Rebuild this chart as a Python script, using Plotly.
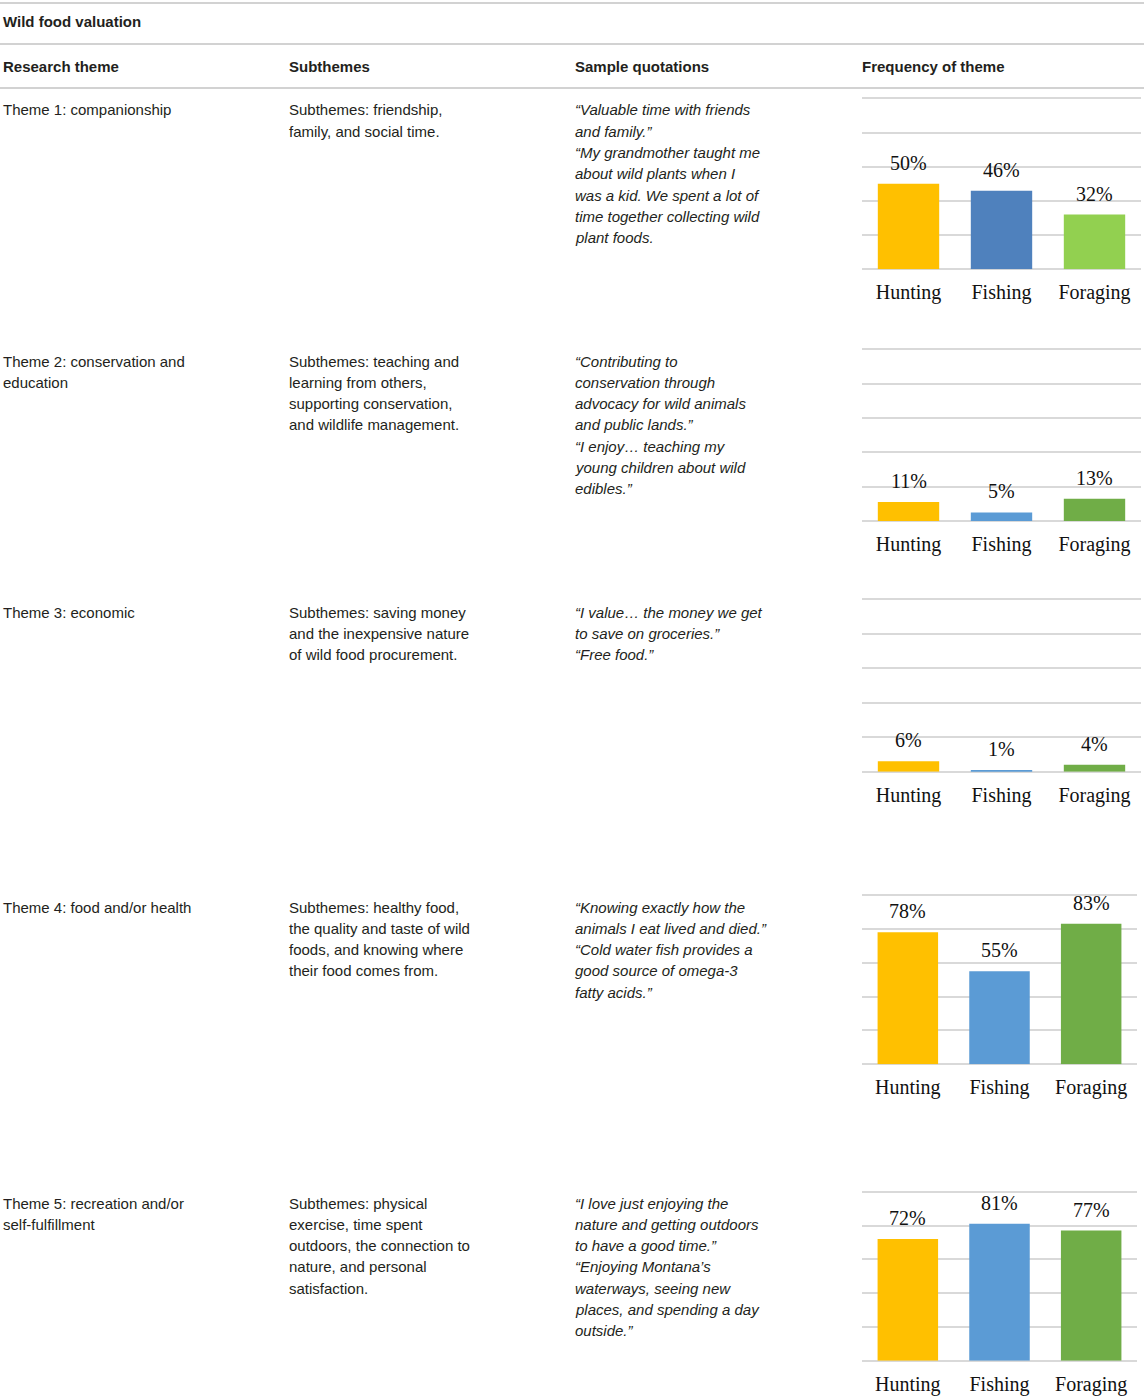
import plotly.graph_objects as go

W, H = 1144, 1397

# ---------------- data ----------------
categories = ["Hunting", "Fishing", "Foraging"]
theme1_values = [50, 46, 32]
theme2_values = [11, 5, 13]
theme3_values = [6, 1, 4]
theme4_values = [78, 55, 83]
theme5_values = [72, 81, 77]
all_values = [theme1_values, theme2_values, theme3_values, theme4_values, theme5_values]

colors_theme1 = ["#FFC000", "#4F81BD", "#92D050"]
colors_other = ["#FFC000", "#5B9BD5", "#70AD47"]
bar_colors = [colors_theme1, colors_other, colors_other, colors_other, colors_other]

table_title = "Wild food valuation"
column_headers = ["Research theme", "Subthemes", "Sample quotations", "Frequency of theme"]

research_themes = [
    ["Theme 1: companionship"],
    ["Theme 2: conservation and", "education"],
    ["Theme 3: economic"],
    ["Theme 4: food and/or health"],
    ["Theme 5: recreation and/or", "self-fulfillment"],
]
subthemes = [
    ["Subthemes: friendship,", "family, and social time."],
    ["Subthemes: teaching and", "learning from others,", "supporting conservation,", "and wildlife management."],
    ["Subthemes: saving money", "and the inexpensive nature", "of wild food procurement."],
    ["Subthemes: healthy food,", "the quality and taste of wild", "foods, and knowing where", "their food comes from."],
    ["Subthemes: physical", "exercise, time spent", "outdoors, the connection to", "nature, and personal", "satisfaction."],
]
quotations = [
    ["\u201cValuable time with friends", "and family.\u201d", "\u201cMy grandmother taught me",
     "about wild plants when I", "was a kid. We spent a lot of", "time together collecting wild", "plant foods."],
    ["\u201cContributing to", "conservation through", "advocacy for wild animals", "and public lands.\u201d",
     "\u201cI enjoy\u2026 teaching my", "young children about wild", "edibles.\u201d"],
    ["\u201cI value\u2026 the money we get", "to save on groceries.\u201d", "\u201cFree food.\u201d"],
    ["\u201cKnowing exactly how the", "animals I eat lived and died.\u201d", "\u201cCold water fish provides a",
     "good source of omega-3", "fatty acids.\u201d"],
    ["\u201cI love just enjoying the", "nature and getting outdoors", "to have a good time.\u201d",
     "\u201cEnjoying Montana\u2019s", "waterways, seeing new", "places, and spending a day", "outside.\u201d"],
]

# ---------------- layout geometry (pixels) ----------------
row_text_top = [110, 361, 612, 907, 1203]
line_step = 21.3
col_x = [3, 289, 575, 862]
rule_y = [3, 44, 88]
chart_boxes = [  # x0, x1, y_top (value 100), y_bottom (value 0)
    (862, 1141, 98.3, 269.3),
    (862, 1141, 349.3, 521.0),
    (862, 1141, 599.3, 771.7),
    (862, 1137, 895.0, 1064.3),
    (862, 1137, 1191.7, 1360.7),
]
YMAX = 101.0  # small headroom so the 100 gridline is drawn

SANS = "Liberation Sans"
SERIF = "Liberation Serif"
TXT = "#231f20"


def px(x):
    return x / W


def py(y):
    return 1 - y / H


fig = go.Figure()
annotations = []
shapes = []

# table rules
for y in rule_y:
    shapes.append(dict(type="line", xref="paper", yref="paper", x0=0, x1=1, y0=py(y), y1=py(y),
                       line=dict(color="#a6a6a6", width=1.2)))

# title & headers
annotations.append(dict(text="<b>" + table_title + "</b>", x=px(col_x[0] - 2), y=py(21), xref="paper", yref="paper",
                        xanchor="left", yanchor="middle", showarrow=False,
                        font=dict(family=SANS, size=15, color=TXT)))
for cx, h in zip(col_x, column_headers):
    annotations.append(dict(text="<b>" + h + "</b>", x=px(cx - 2), y=py(66), xref="paper", yref="paper",
                            xanchor="left", yanchor="middle", showarrow=False,
                            font=dict(family=SANS, size=15, color=TXT)))

# body text
for r in range(5):
    for c, (col_lines, italic) in enumerate([(research_themes[r], False), (subthemes[r], False), (quotations[r], True)]):
        for i, line in enumerate(col_lines):
            t = "<i>" + line + "</i>" if italic else line
            annotations.append(dict(text=t, x=px(col_x[c] - 2), y=py(row_text_top[r] + i * line_step),
                                    xref="paper", yref="paper", xanchor="left", yanchor="middle",
                                    showarrow=False, font=dict(family=SANS, size=15, color=TXT)))

# bar charts
for k, (vals, cols, box) in enumerate(zip(all_values, bar_colors, chart_boxes), start=1):
    xa = "x" if k == 1 else f"x{k}"
    ya = "y" if k == 1 else f"y{k}"
    fig.add_trace(go.Bar(x=categories, y=vals, marker=dict(color=cols, line=dict(width=0)),
                         xaxis=xa, yaxis=ya, showlegend=False, hoverinfo="skip"))
    x0, x1, yt, yb = box
    yt_ext = yb - (yb - yt) * YMAX / 100.0
    xkey = "xaxis" if k == 1 else f"xaxis{k}"
    ykey = "yaxis" if k == 1 else f"yaxis{k}"
    fig.layout[xkey] = dict(domain=[px(x0), px(x1)], anchor=ya, showgrid=False, showline=False,
                            zeroline=False, ticks="", ticklabelstandoff=9,
                            tickfont=dict(family=SERIF, size=20, color="#111111"),
                            fixedrange=True)
    fig.layout[ykey] = dict(domain=[py(yb), py(yt_ext)], anchor=xa, range=[0, YMAX], dtick=20, tick0=0,
                            showticklabels=False, showgrid=True, gridcolor="#D9D9D9", gridwidth=1.5,
                            zeroline=True, zerolinecolor="#D9D9D9", zerolinewidth=1.5,
                            showline=False, ticks="", fixedrange=True)
    for cat, v in zip(categories, vals):
        annotations.append(dict(text=f"{v}%", x=cat, y=v, xref=xa, yref=ya, xanchor="center",
                                yanchor="bottom", yshift=8, showarrow=False,
                                font=dict(family=SERIF, size=20, color="#111111")))

fig.update_layout(width=W, height=H, margin=dict(l=0, r=0, t=0, b=0),
                  paper_bgcolor="white", plot_bgcolor="white", bargap=0.34,
                  annotations=annotations, shapes=shapes, showlegend=False)

fig.write_html("out.html", config={"displayModeBar": False},
               post_script="document.body.style.margin='0';document.body.style.padding='0';")
